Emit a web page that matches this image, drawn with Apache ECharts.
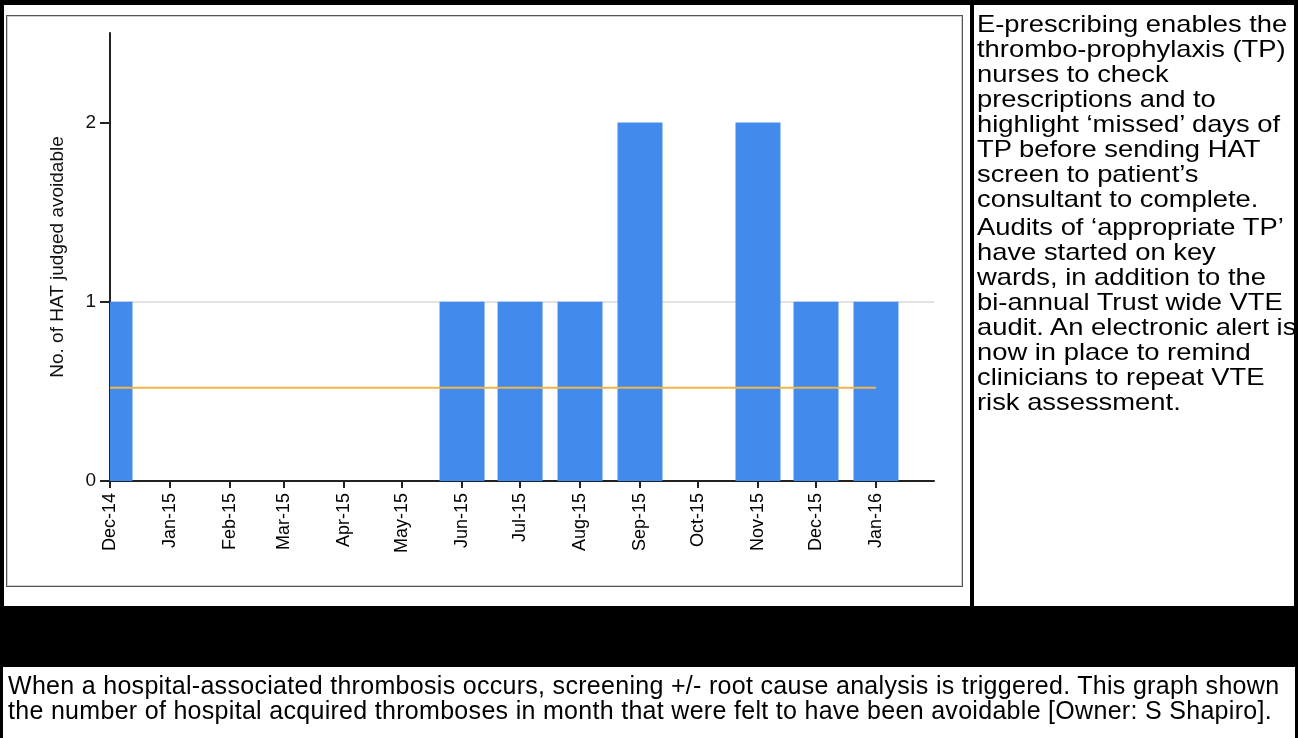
<!DOCTYPE html>
<html>
<head>
<meta charset="utf-8">
<title>Avoidable hospital-associated thrombosis</title>
<script src="https://cdn.jsdelivr.net/npm/echarts@6/dist/echarts.min.js"></script>
<style>
  html, body { margin: 0; padding: 0; background: #fff; }
  body { width: 1298px; height: 738px; position: relative; overflow: hidden;
         font-family: 'Liberation Sans', Arial, sans-serif; color: #000; }
  .frame { position: absolute; left: 0; top: 0; width: 1298px; height: 606px; box-sizing: border-box;
           border: 4px solid #000; border-top-width: 5px; border-bottom: none; }
  .divider { position: absolute; left: 970px; top: 0; width: 4px; height: 606px; background: #000; }
  .chartbox { position: absolute; left: 6px; top: 15px; width: 957px; height: 572px; box-sizing: border-box;
              border: 1px solid #555; box-shadow: inset 0 0 0 1px #cfcfcf; }
  #chart { position: absolute; left: 0; top: 0; width: 1298px; height: 738px; }
  .note { position: absolute; left: 977px; top: 11px; font-size: 24px; line-height: 25px;
          white-space: nowrap; transform: scaleX(1.14); transform-origin: 0 0; }
  .note p { margin: 0 0 3px 0; }
  .band { position: absolute; left: 0; top: 606px; width: 1298px; height: 61px; background: #000; }
  .foot { position: absolute; left: 0; top: 667px; width: 1298px; height: 71px; box-sizing: border-box;
          border-left: 3px solid #000; border-right: 3px solid #000; }
  .foot p { margin: 0; position: absolute; left: 5px; top: 6px; font-size: 25px; line-height: 25px;
            letter-spacing: 0.3px; white-space: nowrap; }
</style>
</head>
<body>
<div class="frame"></div>
<div class="divider"></div>
<div class="chartbox"></div>
<div id="chart"></div>
<div class="note">
  <p>E-prescribing enables the<br>thrombo-prophylaxis (TP)<br>nurses to check<br>prescriptions and to<br>highlight ‘missed’ days of<br>TP before sending HAT<br>screen to patient’s<br>consultant to complete.</p>
  <p>Audits of ‘appropriate TP’<br>have started on key<br>wards, in addition to the<br>bi-annual Trust wide VTE<br>audit. An electronic alert is<br>now in place to remind<br>clinicians to repeat VTE<br>risk assessment.</p>
</div>
<div class="band"></div>
<div class="foot">
  <p>When a hospital-associated thrombosis occurs, screening +/- root cause analysis is triggered. This graph shown<br>the number of hospital acquired thromboses in month that were felt to have been avoidable [Owner: S Shapiro].</p>
</div>
<script>
// Monthly counts of hospital-associated thromboses judged avoidable
const months = ['2014-12', '2015-01', '2015-02', '2015-03', '2015-04', '2015-05', '2015-06',
                '2015-07', '2015-08', '2015-09', '2015-10', '2015-11', '2015-12', '2016-01'];
const tickLabels = ['Dec-14', 'Jan-15', 'Feb-15', 'Mar-15', 'Apr-15', 'May-15', 'Jun-15',
                    'Jul-15', 'Aug-15', 'Sep-15', 'Oct-15', 'Nov-15', 'Dec-15', 'Jan-16'];
const avoidableHAT = [1, 0, 0, 0, 0, 0, 1, 1, 1, 2, 0, 2, 1, 1];
const meanLevel = [0.52, 0.52, 0.52, 0.52, 0.52, 0.52, 0.52, 0.52, 0.52, 0.52, 0.52, 0.52, 0.52, 0.52];
const yTicks = [0, 1, 2];
const axisStart = '2014-12-01';
const axisEnd = '2016-01-31';

// The x axis counts days from the first of the first month, so months keep their true lengths
const DAY = 86400000;
const dateUTC = s => { const p = s.split('-').map(Number); return Date.UTC(p[0], p[1] - 1, p[2] || 1); };
const origin = dateUTC(axisStart);
const dayOf = s => Math.round((dateUTC(s) - origin) / DAY);
const monthDays = months.map(dayOf);

const BAR_WIDTH = 45;
const BAR_COLOR = '#428BED';

const chart = echarts.init(document.getElementById('chart'), null, { renderer: 'canvas' });
const font = "'Liberation Sans', Arial, sans-serif";

// Bars centred on each month start, cut off at the plot edges
function renderBar(params, api) {
  const top = api.coord([api.value(0), api.value(1)]);
  const base = api.coord([api.value(0), 0]);
  const rect = echarts.graphic.clipRectByRect(
    { x: top[0] - BAR_WIDTH / 2, y: top[1], width: BAR_WIDTH, height: base[1] - top[1] },
    { x: params.coordSys.x, y: params.coordSys.y, width: params.coordSys.width, height: params.coordSys.height }
  );
  if (!rect || rect.height <= 0) return null;
  return { type: 'rect', shape: rect, style: { fill: BAR_COLOR } };
}

chart.setOption({
  animation: false,
  textStyle: { fontFamily: font },
  grid: { left: 110, top: 33, right: 364, bottom: 257, containLabel: false, outerBoundsMode: 'none' },
  xAxis: {
    type: 'value',
    min: 0,
    max: dayOf(axisEnd),
    axisLine: { show: true, onZero: false, lineStyle: { color: '#222', width: 2 } },
    axisTick: { show: true, length: 7, customValues: monthDays, lineStyle: { color: '#222', width: 2 } },
    axisLabel: {
      customValues: monthDays,
      rotate: 90,
      margin: 12,
      fontSize: 18,
      color: '#000',
      fontFamily: font,
      formatter: (value) => {
        const i = monthDays.indexOf(Math.round(+value));
        return i >= 0 ? tickLabels[i] : '';
      }
    },
    splitLine: { show: false },
    minorTick: { show: false }
  },
  yAxis: {
    type: 'value',
    min: 0,
    max: 2.5,
    interval: 1,
    name: 'No. of HAT judged avoidable',
    nameLocation: 'middle',
    nameGap: 43,
    nameRotate: 90,
    nameTextStyle: { fontSize: 19, color: '#111', fontFamily: font },
    axisLine: { show: true, onZero: false, lineStyle: { color: '#222', width: 2 } },
    axisTick: { show: true, length: 10, customValues: yTicks, lineStyle: { color: '#222', width: 2 } },
    axisLabel: { customValues: yTicks, margin: 14, fontSize: 19, color: '#111', fontFamily: font },
    splitLine: { show: true, showMinLine: false, showMaxLine: false, lineStyle: { color: '#e3e3e3', width: 2 } }
  },
  series: [
    {
      name: 'Avoidable HAT',
      type: 'custom',
      renderItem: renderBar,
      encode: { x: 0, y: 1 },
      z: 2,
      data: monthDays.map((d, i) => [d, avoidableHAT[i]])
    },
    {
      name: 'Mean',
      type: 'line',
      symbol: 'none',
      z: 3,
      lineStyle: { color: '#F4B446', width: 2 },
      data: monthDays.map((d, i) => [d, meanLevel[i]])
    }
  ]
});
</script>
</body>
</html>
